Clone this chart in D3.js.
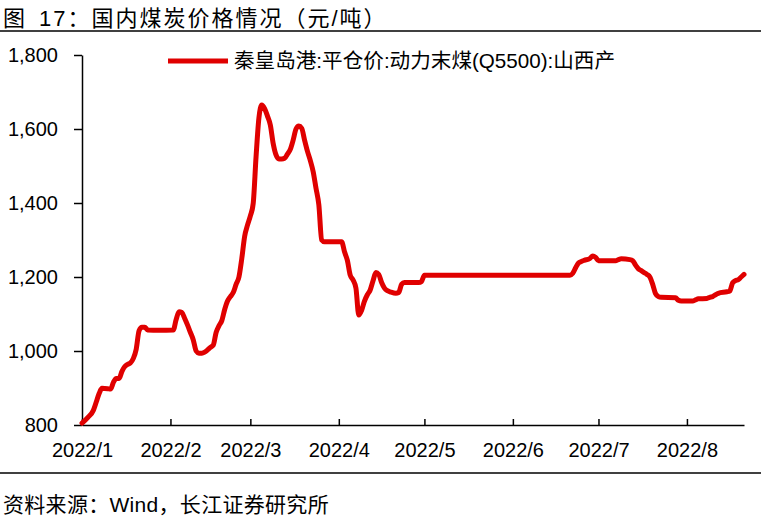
<!DOCTYPE html>
<html>
<head>
<meta charset="utf-8">
<script src="https://cdn.jsdelivr.net/npm/d3@7"></script>
<style>
  html, body { margin: 0; padding: 0; background: #fff; }
  svg { display: block; font-family: "Liberation Sans", Arial, "Noto Sans CJK SC", sans-serif; }
</style>
</head>
<body>
<svg id="chart" width="761" height="518"></svg>
<script>
// ---- data ----
const titleHead = "图";
const titleRest = "17：国内煤炭价格情况（元/吨）";
const sourceText = "资料来源：Wind，长江证券研究所";
const seriesName = "秦皇岛港:平仓价:动力末煤(Q5500):山西产";

const dates = [
  "2022-01-01","2022-01-03","2022-01-05","2022-01-06","2022-01-07","2022-01-08","2022-01-10","2022-01-11",
  "2022-01-12","2022-01-13","2022-01-14","2022-01-15","2022-01-16","2022-01-17","2022-01-18","2022-01-19",
  "2022-01-20","2022-01-21","2022-01-22","2022-01-23","2022-01-24","2022-01-28","2022-02-02","2022-02-03",
  "2022-02-04","2022-02-05","2022-02-06","2022-02-07","2022-02-08","2022-02-09","2022-02-10","2022-02-11",
  "2022-02-12","2022-02-13","2022-02-14","2022-02-15","2022-02-16","2022-02-17","2022-02-18","2022-02-19",
  "2022-02-20","2022-02-21","2022-02-22","2022-02-23","2022-02-24","2022-02-25","2022-02-26","2022-02-27",
  "2022-02-28","2022-03-01","2022-03-02","2022-03-03","2022-03-04","2022-03-05","2022-03-06","2022-03-07",
  "2022-03-08","2022-03-09","2022-03-10","2022-03-11","2022-03-12","2022-03-13","2022-03-14","2022-03-15",
  "2022-03-16","2022-03-17","2022-03-18","2022-03-19","2022-03-20","2022-03-21","2022-03-22","2022-03-23",
  "2022-03-24","2022-03-25","2022-03-26","2022-03-27","2022-04-02","2022-04-03","2022-04-04","2022-04-05",
  "2022-04-06","2022-04-07","2022-04-08","2022-04-09","2022-04-10","2022-04-11","2022-04-12","2022-04-13",
  "2022-04-14","2022-04-15","2022-04-16","2022-04-17","2022-04-18","2022-04-19","2022-04-21","2022-04-22",
  "2022-04-23","2022-04-24","2022-04-29","2022-04-30","2022-05-01","2022-06-21","2022-06-22","2022-06-23",
  "2022-06-24","2022-06-25","2022-06-26","2022-06-28","2022-06-29","2022-06-30","2022-07-01","2022-07-07",
  "2022-07-08","2022-07-09","2022-07-12","2022-07-13","2022-07-14","2022-07-15","2022-07-16","2022-07-17",
  "2022-07-18","2022-07-19","2022-07-20","2022-07-21","2022-07-22","2022-07-23","2022-07-28","2022-07-29",
  "2022-07-30","2022-08-03","2022-08-04","2022-08-05","2022-08-08","2022-08-09","2022-08-10","2022-08-11",
  "2022-08-12","2022-08-15","2022-08-16","2022-08-17","2022-08-18","2022-08-19","2022-08-20","2022-08-21"
];
const prices = [
  805, 820, 840, 862, 885, 899, 898, 897,
  915, 926, 926, 945, 958, 964, 968, 980,
  1005, 1055, 1064, 1064, 1057, 1056, 1057, 1085,
  1106, 1104, 1088, 1070, 1050, 1030, 1000, 994,
  994, 997, 1003, 1010, 1016, 1050, 1068, 1082,
  1112, 1135, 1147, 1158, 1180, 1200, 1250, 1310,
  1340, 1365, 1399, 1525, 1630, 1665, 1655, 1635,
  1611, 1561, 1530, 1519, 1519, 1521, 1532, 1545,
  1570, 1600, 1608, 1602, 1570, 1540, 1515, 1485,
  1440, 1395, 1300, 1295, 1295, 1268, 1245, 1205,
  1192, 1170, 1097, 1110, 1135, 1152, 1165, 1190,
  1212, 1207, 1185, 1170, 1163, 1160, 1156, 1158,
  1180, 1185, 1185, 1188, 1205, 1205, 1210, 1225,
  1238, 1242, 1245, 1250, 1257, 1253, 1244, 1244,
  1247, 1249, 1247, 1244, 1232, 1222, 1217, 1212,
  1207, 1200, 1180, 1155, 1147, 1145, 1144, 1137,
  1135, 1135, 1138, 1141, 1142, 1145, 1147, 1152,
  1156, 1160, 1162, 1184, 1190, 1193, 1200, 1207
];
const yTicks = [800, 1000, 1200, 1400, 1600, 1800];
const xTickDates = ["2022-01-01","2022-02-01","2022-03-01","2022-04-01","2022-05-01","2022-06-01","2022-07-01","2022-08-01"];
const xTickLabels = ["2022/1","2022/2","2022/3","2022/4","2022/5","2022/6","2022/7","2022/8"];

// ---- drawing ----
const parse = d3.timeParse("%Y-%m-%d");
const data = dates.map((d, i) => ({ date: parse(d), value: prices[i] }));
const tickDates = xTickDates.map(parse);

const svg = d3.select("#chart");
const plotLeft = 82, plotRight = 744, plotTop = 55, plotBottom = 425;

const x = d3.scaleTime()
  .domain([parse("2022-01-01"), parse("2022-08-21")])
  .range([plotLeft, plotRight]);
const y = d3.scaleLinear().domain([800, 1800]).range([plotBottom, plotTop]);

// title
const title = svg.append("text")
  .attr("x", 3).attr("y", 26)
  .attr("font-size", 22)
  .attr("letter-spacing", 2)
  .attr("fill", "#000");
title.append("tspan").text(titleHead);
title.append("tspan").attr("dx", 12).text(titleRest);
svg.append("line")
  .attr("x1", 0).attr("x2", 761).attr("y1", 31).attr("y2", 31)
  .attr("stroke", "#000").attr("stroke-width", 1.5);

// bottom rule + source
svg.append("line")
  .attr("x1", 0).attr("x2", 761).attr("y1", 473).attr("y2", 473)
  .attr("stroke", "#000").attr("stroke-width", 1.5);
svg.append("text")
  .attr("x", 3).attr("y", 512)
  .attr("font-size", 21)
  .attr("letter-spacing", 0.3)
  .attr("fill", "#000")
  .text(sourceText);

// y axis
const yAxis = d3.axisLeft(y)
  .tickValues(yTicks)
  .tickFormat(d3.format(","))
  .tickSizeInner(8).tickSizeOuter(0).tickPadding(16);
const gy = svg.append("g").attr("transform", `translate(${plotLeft},0)`).call(yAxis);
gy.selectAll("text").attr("font-size", 20).attr("fill", "#000")
  .attr("font-family", "'Liberation Sans', Arial, sans-serif");
gy.selectAll("line, path").attr("stroke", "#000").attr("stroke-width", 1.5);

// x axis
const xAxis = d3.axisBottom(x)
  .tickValues(tickDates)
  .tickFormat((d, i) => xTickLabels[i])
  .tickSizeInner(-6).tickSizeOuter(0).tickPadding(18);
const gx = svg.append("g").attr("transform", `translate(0,${plotBottom})`).call(xAxis);
gx.selectAll("text").attr("font-size", 20).attr("fill", "#000")
  .attr("font-family", "'Liberation Sans', Arial, sans-serif");
gx.selectAll("line, path").attr("stroke", "#000").attr("stroke-width", 1.5);

// line
const line = d3.line()
  .x(d => x(d.date))
  .y(d => y(d.value))
  .curve(d3.curveMonotoneX);
svg.append("path")
  .datum(data)
  .attr("d", line)
  .attr("fill", "none")
  .attr("stroke", "#e00000")
  .attr("stroke-width", 5)
  .attr("stroke-linejoin", "round")
  .attr("stroke-linecap", "round");

// legend
svg.append("line")
  .attr("x1", 168).attr("x2", 228).attr("y1", 61).attr("y2", 61)
  .attr("stroke", "#e00000").attr("stroke-width", 5);
svg.append("text")
  .attr("x", 234).attr("y", 68)
  .attr("font-size", 20.6)
  .attr("fill", "#000")
  .text(seriesName);
</script>
</body>
</html>
